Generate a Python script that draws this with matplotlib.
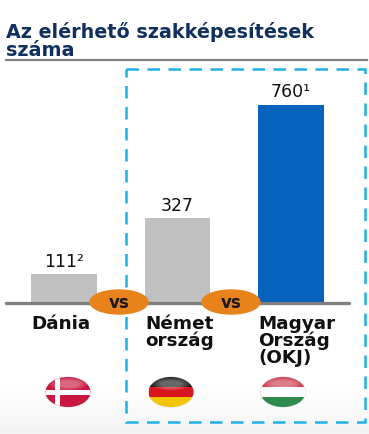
import numpy as np
import matplotlib.pyplot as plt
from matplotlib.patches import Ellipse, Rectangle

plt.rcParams['font.family'] = ['DejaVu Sans']

# values
countries = ["Dánia", "Német\nország", "Magyar\nOrszág\n(OKJ)"]
values = [111, 327, 760]
value_labels = ["111²", "327", "760¹"]
bar_colors = ["#c0c0c0", "#c0c0c0", "#0563bd"]
title = "Az elérhető szakképesítések\nszáma"

W, H = 369, 435
fig = plt.figure(figsize=(W / 100, H / 100), dpi=100)

# overlay in pixel coordinates, for the decoration
bg = fig.add_axes([0, 0, 1, 1], zorder=0)
bg.set_xlim(0, W)
bg.set_ylim(H, 0)
bg.axis('off')
shade = np.concatenate([np.ones(385), np.linspace(1, 0.95, 50)]).reshape(-1, 1)
bg.imshow(shade, cmap='gray', vmin=0, vmax=1, extent=[0, W, H, 0], aspect='auto')

# bars, base of the axes sits on the grey line
ax = fig.add_axes([0, (H - 304.5) / H, 1, 250 / H], zorder=1)
ax.patch.set_alpha(0)
ax.set_xlim(-64 / 113.5, (W - 64) / 113.5)
ax.set_ylim(0, 760 * 250 / 199)
ax.axis('off')
xs = np.arange(len(values))
ax.bar(xs, values, width=0.58, color=bar_colors)
for x, v, s in zip(xs, values, value_labels):
    ax.annotate(s, (x, v), xytext=(0, 3), textcoords='offset points', ha='center',
                va='bottom', fontsize=12.5, color='#111111')

top = fig.add_axes([0, 0, 1, 1], zorder=2)
top.patch.set_alpha(0)
top.set_xlim(0, W)
top.set_ylim(H, 0)
top.axis('off')

top.text(6, 41, title, fontsize=13.8, fontweight='bold', color='#10305e',
         va='center', ha='left', linespacing=0.88)
top.plot([6, 367], [61, 61], color='#808080', lw=1.6)

top.add_patch(Rectangle((126, 70), 239, 353, fill=False, ec='#1fb0e8', lw=1.8,
                        ls=(0, (5, 3.4))))
top.plot([6, 349], [304, 304], color='#7f7f7f', lw=2.4, solid_capstyle='round')

for cx in [119, 231]:
    top.add_patch(Ellipse((cx, 303), 58, 24, color='#e8821a', zorder=3))
    top.text(cx, 303, "vs", fontsize=12, fontweight='bold', color='#1a1a1a',
             ha='center', va='center', zorder=4)

for lx, s in zip([31, 145, 258], countries):
    top.text(lx, 315, s, fontsize=13.2, fontweight='bold', color='#111111', va='top',
             ha='left', linespacing=0.92)


def flag(cx, colors, cross=False):
    cy, w, h = 393, 45, 30
    clip = Ellipse((cx, cy), w, h, transform=top.transData, fc='none', ec='#dddddd', lw=0.8)
    top.add_patch(clip)
    y0 = cy - h / 2
    for i, c in enumerate(colors):
        r = Rectangle((cx - w / 2, y0 + i * h / len(colors)), w, h / len(colors), fc=c, ec='none')
        top.add_patch(r)
        r.set_clip_path(clip)
    if cross:
        for r in [Rectangle((cx - 13, y0), 5, h, fc='white', ec='none'),
                  Rectangle((cx - w / 2, cy - 2.5), w, 5, fc='white', ec='none')]:
            top.add_patch(r)
            r.set_clip_path(clip)
    # glossy top, built from a few faint layers
    for k in range(4):
        gloss = Ellipse((cx, cy - 8), w * (0.85 - k * 0.12), 13 - k * 2, fc='white', ec='none', alpha=0.1)
        top.add_patch(gloss)


flag(68, ['#c8183f'], cross=True)
flag(171, ['#1a1a1a', '#d8141c', '#f5c400'])
flag(283, ['#cc3a4c', '#ffffff', '#2f8a4e'])

fig.savefig('out.png', dpi=100)
